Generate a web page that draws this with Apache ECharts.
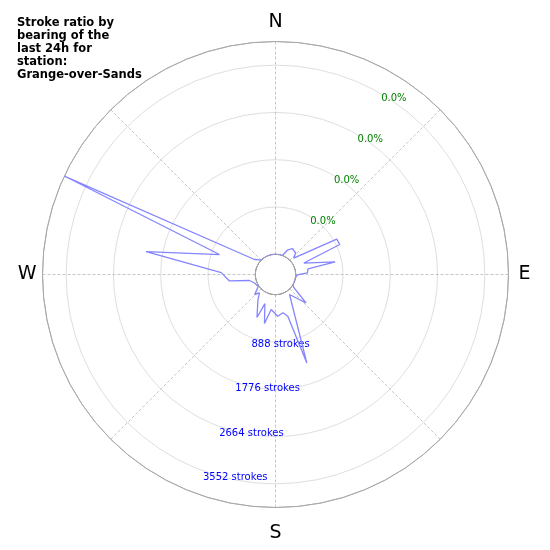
<!DOCTYPE html>
<html>
<head>
<meta charset="utf-8">
<script src="https://cdn.jsdelivr.net/npm/echarts@6/dist/echarts.min.js"></script>
<style>
  html, body { margin: 0; padding: 0; background: #fff; }
  #chart { width: 550px; height: 550px; }
</style>
</head>
<body>
<div id="chart"></div>
<script>
// bearings (deg from north, clockwise) and stroke counts
var bearings = [0, 10, 20, 26, 33, 43, 48, 60, 65, 68, 78, 80, 87, 91,
  100, 110, 120, 125, 133, 145, 160.5, 163.6, 169, 177, 187, 192.7, 200, 203.3,
  215, 221, 226, 235, 248, 257, 262, 272, 280, 289.6, 295, 305.5, 309,
  315, 325, 335, 345, 355, 360];
var strokes = [0, 0, 0, 128, 203, 175, 81, 948, 953, 195, 766, 240, 221, 28,
  0, 0, 0, 34, 405, 79, 1385, 437, 353, 405, 283, 563, 203, 499,
  195, 77, 165, 15, 45, 122, 494, 640, 2087, 738, 3996, 105, 66,
  0, 0, 0, 0, 0, 0];
var strokeMax = 3996;
var strokeTicks = [888, 1776, 2664, 3552];
var pctLabels = ['0.0%', '0.0%', '0.0%', '0.0%'];
var compass = { 0: 'n', 90: 'e', 180: 's', 270: 'w' };

var centre = [275.5, 274.5];
var rads = [20.2, 233];

var lineData = bearings.map(function (b, i) { return [strokes[i], b]; });

var chart = echarts.init(document.getElementById('chart'));
var option = {
  animation: false,
  textStyle: { fontFamily: 'DejaVu Sans' },
  title: {
    text: 'Stroke ratio by\nbearing of the\nlast 24h for\nstation:\nGrange-over-Sands',
    left: 17,
    top: 16,
    padding: 0,
    textStyle: { fontSize: 11.5, fontWeight: 'bold', color: '#000', lineHeight: 13.2, fontFamily: 'DejaVu Sans' }
  },
  polar: [
    { center: centre, radius: rads },
    { center: centre, radius: rads },
    { center: centre, radius: rads }
  ],
  angleAxis: [
    {
      polarIndex: 0, type: 'value', min: 0, max: 360, interval: 45,
      startAngle: 90, clockwise: true,
      axisLine: { show: true, lineStyle: { color: '#a8a8a8', width: 1 } },
      axisTick: { show: false },
      axisLabel: {
        margin: 6, fontSize: 19, color: '#000', fontFamily: 'DejaVu Sans',
        formatter: function (v) {
          var k = compass[v];
          return k ? '{' + k + '|' + k.toUpperCase() + '}' : '';
        },
        rich: {
          n: { fontSize: 19, padding: [0, 0, 4, 0] },
          e: { fontSize: 19, padding: [0, 0, 0, 4] },
          s: { fontSize: 19, padding: [10, 0, 0, 0] },
          w: { fontSize: 19 }
        }
      },
      splitLine: { show: true, lineStyle: { color: '#b8b8b8', width: 0.8, type: [3, 2] } }
    },
    { polarIndex: 1, type: 'value', min: 0, max: 360, startAngle: 250, show: false },
    { polarIndex: 2, type: 'value', min: 0, max: 360, startAngle: 60, show: false }
  ],
  radiusAxis: [
    {
      polarIndex: 0, type: 'value', min: 0, max: strokeMax, interval: 888,
      axisLine: { show: false }, axisTick: { show: false }, axisLabel: { show: false },
      splitLine: { show: true, lineStyle: { color: ['#333333', '#d6d6d6', '#d6d6d6', '#d6d6d6', '#d6d6d6', '#a8a8a8'], width: 0.8 } }
    },
    {
      polarIndex: 1, type: 'value', min: 0, max: strokeMax, interval: 888,
      axisLine: { show: false }, axisTick: { show: false }, splitLine: { show: false },
      axisLabel: {
        margin: -1, align: 'left', verticalAlign: 'middle',
        formatter: function (v) {
          var i = strokeTicks.indexOf(v);
          return i < 0 ? '' : '{a|' + strokeTicks[i] + ' strokes}';
        },
        rich: {
          a: { fontSize: 10, color: '#0000ff', fontFamily: 'DejaVu Sans', padding: [13, 0, 0, 0] }
        }
      }
    },
    {
      polarIndex: 2, type: 'value', min: 0, max: strokeMax, interval: 888,
      axisLine: { show: false }, axisTick: { show: false }, splitLine: { show: false },
      axisLabel: {
        margin: 0, align: 'left', verticalAlign: 'middle',
        formatter: function (v) {
          var i = strokeTicks.indexOf(v);
          return i < 0 ? '' : '{p|' + pctLabels[i] + '}';
        },
        rich: {
          p: { fontSize: 10, color: '#008000', fontFamily: 'DejaVu Sans', padding: [10, 0, 0, 1] }
        }
      }
    }
  ],
  series: [
    {
      type: 'line',
      coordinateSystem: 'polar',
      polarIndex: 0,
      data: lineData,
      symbol: 'none',
      lineStyle: { color: '#8585ff', width: 1.3 },
      z: 3
    }
  ]
};
chart.setOption(option);
</script>
</body>
</html>
